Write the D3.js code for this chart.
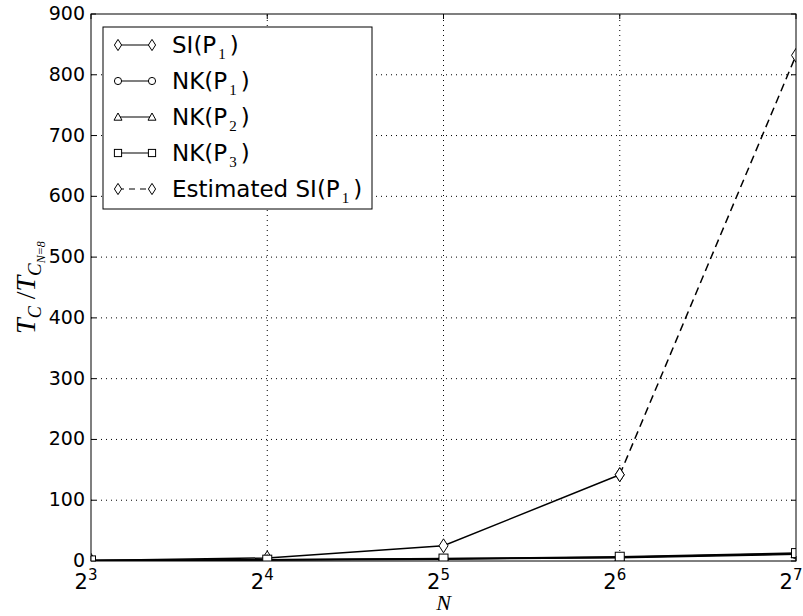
<!DOCTYPE html>
<html lang="en">
<head>
    <script src="https://cdn.jsdelivr.net/npm/d3@7"></script>
    <style>
        body { margin: 0; background: #fff; }
        text { font-family: "DejaVu Sans", sans-serif; }
    </style>
</head>
<body>
<div id="chart"></div>
<script>
    var width = 803,
        height = 616,
        margin = {top: 14, right: 7, bottom: 55, left: 91}

    // data
    var N = [8, 16, 32, 64, 128]
    var yTicks = [0, 100, 200, 300, 400, 500, 600, 700, 800, 900]
    var xExp = [3, 4, 5, 6, 7]
    var siP1 = [1, 5, 25, 142]
    var nkP1 = [1, 1.8, 3, 5.5, 11]
    var nkP2 = [1, 2, 3.5, 6, 12]
    var nkP3 = [1, 2.2, 4, 7, 13]
    var estN = [64, 128]
    var estSI = [142, 832]

    var series = [
        {name: "SI", sub: "1", x: N.slice(0, 4), y: siP1, marker: "diamond", dash: null},
        {name: "NK", sub: "1", x: N, y: nkP1, marker: "circle", dash: null},
        {name: "NK", sub: "2", x: N, y: nkP2, marker: "triangle", dash: null},
        {name: "NK", sub: "3", x: N, y: nkP3, marker: "square", dash: null},
        {name: "Estimated SI", sub: "1", x: estN, y: estSI, marker: "diamond", dash: "8,5"}
    ]

    var svg = d3.select("#chart").append("svg")
        .attr("width", width)
        .attr("height", height)

    var x = d3.scaleLog().base(2)
        .domain([8, 128])
        .range([margin.left, width - margin.right])
    var y = d3.scaleLinear()
        .domain([0, 900])
        .range([height - margin.bottom, margin.top])

    // grid
    var grid = svg.append("g")
        .attr("stroke", "#000")
        .attr("stroke-width", 1)
        .attr("stroke-dasharray", "1,4")
    grid.selectAll(".gx").data(N.slice(1, 4)).enter().append("line")
        .attr("x1", d => x(d)).attr("x2", d => x(d))
        .attr("y1", y(0)).attr("y2", y(900))
    grid.selectAll(".gy").data(yTicks.slice(1, 9)).enter().append("line")
        .attr("x1", x(8)).attr("x2", x(128))
        .attr("y1", d => y(d)).attr("y2", d => y(d))

    // ticks
    var ticks = svg.append("g").attr("stroke", "#000")
    yTicks.forEach(function(t) {
        ticks.append("line").attr("x1", x(8)).attr("x2", x(8) + 5).attr("y1", y(t)).attr("y2", y(t))
        ticks.append("line").attr("x1", x(128)).attr("x2", x(128) - 5).attr("y1", y(t)).attr("y2", y(t))
    })
    N.forEach(function(n) {
        ticks.append("line").attr("x1", x(n)).attr("x2", x(n)).attr("y1", y(0)).attr("y2", y(0) - 5)
        ticks.append("line").attr("x1", x(n)).attr("x2", x(n)).attr("y1", y(900)).attr("y2", y(900) + 5)
    })

    svg.selectAll(".ylab").data(yTicks).enter().append("text")
        .attr("x", x(8) - 6)
        .attr("y", d => y(d) + 6)
        .attr("text-anchor", "end")
        .attr("font-size", 19)
        .text(d => d)

    var xl = svg.selectAll(".xlab").data(xExp).enter().append("text")
        .attr("x", d => x(Math.pow(2, d)) - 5)
        .attr("y", y(0) + 28)
        .attr("text-anchor", "middle")
        .attr("font-size", 21)
    xl.append("tspan").text("2")
    xl.append("tspan").attr("dy", -9).attr("font-size", 15).text(d => d)

    // marker shapes
    function marker(g, type, cx, cy, k) {
        k = k || 1
        var m
        if (type == "diamond") {
            m = g.append("path").attr("d", "M" + cx + "," + (cy - 7 * k) + "L" + (cx + 4.5 * k) + "," + cy +
                "L" + cx + "," + (cy + 7 * k) + "L" + (cx - 4.5 * k) + "," + cy + "Z")
        } else if (type == "circle") {
            m = g.append("circle").attr("cx", cx).attr("cy", cy).attr("r", 4.5 * k)
        } else if (type == "triangle") {
            m = g.append("path").attr("d", "M" + cx + "," + (cy - 5 * k) + "L" + (cx + 5 * k) + "," + (cy + 4 * k) +
                "L" + (cx - 5 * k) + "," + (cy + 4 * k) + "Z")
        } else {
            m = g.append("rect").attr("x", cx - 4.5 * k).attr("y", cy - 4.5 * k)
                .attr("width", 9 * k).attr("height", 9 * k)
        }
        m.attr("fill", "#fff").attr("stroke", "#000").attr("stroke-width", 1)
    }

    var line = d3.line()

    svg.append("clipPath").attr("id", "clip").append("rect")
        .attr("x", margin.left).attr("y", margin.top)
        .attr("width", width - margin.left - margin.right)
        .attr("height", height - margin.top - margin.bottom)

    var plot = svg.append("g").attr("clip-path", "url(#clip)")
    series.forEach(function(s) {
        var pts = s.x.map((v, i) => [x(v), y(s.y[i])])
        plot.append("path")
            .attr("d", line(pts))
            .attr("fill", "none")
            .attr("stroke", "#000")
            .attr("stroke-width", 1.5)
            .attr("stroke-dasharray", s.dash)
        var mg = plot.append("g")
        pts.forEach(p => marker(mg, s.marker, p[0], p[1]))
    })

    // frame
    svg.append("rect")
        .attr("x", margin.left).attr("y", margin.top)
        .attr("width", width - margin.left - margin.right)
        .attr("height", height - margin.top - margin.bottom)
        .attr("fill", "none").attr("stroke", "#000").attr("stroke-width", 1)

    // axis labels
    svg.append("text")
        .attr("x", (x(8) + x(128)) / 2)
        .attr("y", 610)
        .attr("text-anchor", "middle")
        .style("font-family", "'Liberation Serif', serif")
        .attr("font-style", "italic")
        .attr("font-size", 22)
        .text("N")

    var yl = svg.append("text")
        .attr("transform", "translate(35," + (y(450)) + ") rotate(-90)")
        .attr("text-anchor", "middle")
        .style("font-family", "'Liberation Serif', serif")
        .attr("font-style", "italic")
        .attr("font-size", 28)
    yl.append("tspan").text("T")
    yl.append("tspan").attr("dy", 6).attr("font-size", 18).text("C")
    yl.append("tspan").attr("dy", -6).attr("font-style", "normal").text(" /")
    yl.append("tspan").text("T")
    yl.append("tspan").attr("dy", 6).attr("font-size", 19).text("C")
    yl.append("tspan").attr("dy", 4).attr("font-size", 12).text("N=8")

    // legend
    var lg = svg.append("g")
    lg.append("rect")
        .attr("x", 103).attr("y", 27).attr("width", 269).attr("height", 182)
        .attr("fill", "#fff").attr("stroke", "#000").attr("stroke-width", 1)
    series.forEach(function(s, i) {
        var ly = 45 + i * 36
        lg.append("line")
            .attr("x1", 118).attr("x2", 152).attr("y1", ly).attr("y2", ly)
            .attr("stroke", "#000").attr("stroke-width", 1.2)
            .attr("stroke-dasharray", s.dash ? "6,5" : null)
        marker(lg, s.marker, 118, ly, 0.8)
        marker(lg, s.marker, 152, ly, 0.8)
        var t = lg.append("text")
            .attr("x", 172).attr("y", ly + 8)
            .attr("font-size", 23)
        t.append("tspan").text(s.name + "(P")
        t.append("tspan").attr("dx", 2).attr("dy", 6).attr("font-size", 15)
            .style("font-family", "'Liberation Serif', serif").text(s.sub)
        t.append("tspan").attr("dx", 4).attr("dy", -6).text(")")
    })
</script>
</body>
</html>
